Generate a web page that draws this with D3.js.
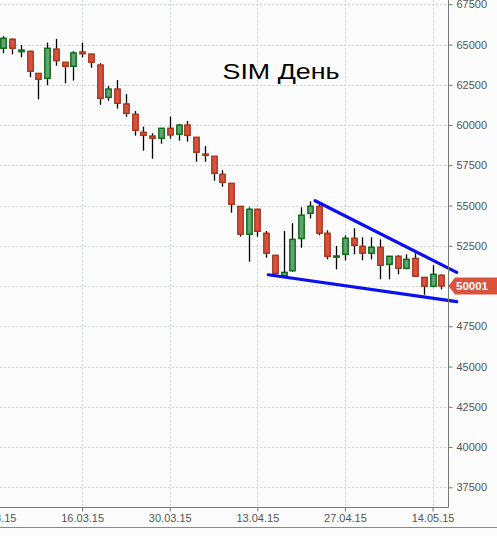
<!DOCTYPE html>
<html>
<head>
<meta charset="utf-8">
<script src="https://cdn.jsdelivr.net/npm/d3@7/dist/d3.min.js"></script>
<style>
  html, body { margin: 0; padding: 0; background: #fcfcfc; }
  svg { display: block; font-family: "Liberation Sans", Arial, sans-serif; }
</style>
</head>
<body>
<svg id="chart" width="497" height="536"></svg>
<script>
// SIM daily candles, 03.03.15 - 15.05.15
var dates = ['03.03.15', '04.03.15', '05.03.15', '06.03.15', '09.03.15', '10.03.15', '11.03.15', '12.03.15', '13.03.15',
  '16.03.15', '17.03.15', '18.03.15', '19.03.15', '20.03.15', '23.03.15', '24.03.15', '25.03.15', '26.03.15', '27.03.15',
  '30.03.15', '31.03.15', '01.04.15', '02.04.15', '03.04.15', '06.04.15', '07.04.15', '08.04.15', '09.04.15', '10.04.15',
  '13.04.15', '14.04.15', '15.04.15', '16.04.15', '17.04.15', '20.04.15', '21.04.15', '22.04.15', '23.04.15', '24.04.15',
  '27.04.15', '28.04.15', '29.04.15', '30.04.15', '05.05.15', '06.05.15', '07.05.15', '08.05.15', '12.05.15', '13.05.15',
  '14.05.15', '15.05.15'];
var opens = [64770, 65330, 64560, 64580, 63210, 62900, 64720, 63900, 63650, 64540,
  64410, 63730, 61720, 62240, 61310, 60670, 59550, 59320, 59180, 59800,
  59430, 60000, 59240, 58200, 58060, 56940, 56380, 54950, 53220, 54770,
  53280, 51910, 50640, 50950, 52950, 54520, 54950, 53280, 51790, 51970,
  52970, 52470, 52040, 52410, 51350, 51850, 51100, 51720, 50540, 49990, 50670];
var highs = [65530, 65380, 64970, 64620, 63230, 65120, 65350, 63920, 64600, 65120,
  64430, 63840, 62430, 62800, 61930, 60870, 59900, 59490, 59820, 60520,
  60070, 60250, 59260, 58700, 58080, 57190, 56400, 54970, 54890, 54800,
  53420, 51930, 53420, 53900, 54890, 55260, 55070, 53460, 52490, 53150,
  53590, 53030, 53030, 52900, 51870, 51910, 51970, 52040, 50560, 51290, 50730];
var lows = [64460, 64390, 64210, 62970, 61600, 62470, 63690, 62590, 62760, 64210,
  63560, 61260, 61510, 61020, 60520, 59340, 58410, 57910, 58840, 59150,
  59030, 58970, 57720, 57720, 56540, 56170, 54560, 53070, 51510, 53070,
  51760, 50660, 50620, 50890, 52380, 54200, 53150, 51660, 51040, 51600,
  51970, 51600, 51660, 50420, 50420, 50730, 51040, 50590, 49460, 49920, 49800];
var closes = [65390, 64770, 64660, 63340, 62840, 64770, 64000, 63650, 64480, 64430,
  63900, 61660, 62240, 61350, 60730, 59670, 59360, 59180, 59800, 59380,
  60000, 59360, 58310, 58120, 57000, 56440, 55080, 53220, 54770, 53400,
  52040, 50780, 50850, 52900, 54400, 54960, 53280, 51840, 51870, 52970,
  52530, 52040, 52410, 51290, 51850, 51100, 51660, 50610, 49990, 50730, 50001];

// hand drawn trend lines: [bar index, price]
var upperTrend = [[35.6, 55300], [51.76, 50850]];
var lowerTrend = [[30.25, 50700], [51.76, 49030]];

var priceTicks = [37500, 40000, 42500, 45000, 47500, 50000, 52500, 55000, 57500, 60000, 62500, 65000, 67500];
var dateTickIdx = [-1, 9, 19, 29, 39, 49];
var dateTickLabels = ['02.03.15', '16.03.15', '30.03.15', '13.04.15', '27.04.15', '14.05.15'];
var lastPrice = 50001;
var title = 'SIM День';

var plotRight = 448, plotBottom = 507, frameBottom = 527;
var svg = d3.select('#chart');

var x = d3.scaleLinear().domain([0, dates.length - 1]).range([3.3, 441.3]);
var y = d3.scaleLinear().domain([37500, 67500]).range([487.3, 4.3]);
var px = function (v) { return Math.round(v) + 0.5; };

var candles = dates.map(function (d, i) {
    return { date: d, i: i, o: opens[i], h: highs[i], l: lows[i], c: closes[i] };
});

// grid
var grid = svg.append('g').attr('stroke', '#cdd3cd').attr('stroke-dasharray', '2,2').attr('stroke-width', 1);
grid.selectAll('.hgrid').data(priceTicks)
    .enter().append('line')
    .attr('x1', 0).attr('x2', plotRight)
    .attr('y1', function (d) { return px(y(d)); })
    .attr('y2', function (d) { return px(y(d)); });
grid.selectAll('.vgrid').data(dateTickIdx)
    .enter().append('line')
    .attr('y1', 0).attr('y2', plotBottom)
    .attr('x1', function (d) { return px(x(d)); })
    .attr('x2', function (d) { return px(x(d)); });

// title
svg.append('text')
    .attr('x', 222.5)
    .attr('y', 78.5)
    .style('font-size', '22px')
    .attr('textLength', 117)
    .attr('lengthAdjust', 'spacingAndGlyphs')
    .attr('fill', '#000')
    .text(title);

// candles
var cg = svg.selectAll('.candle').data(candles)
    .enter().append('g')
    .attr('transform', function (d) { return 'translate(' + px(x(d.i)) + ',0)'; });
cg.append('line')
    .attr('x1', 0).attr('x2', 0)
    .attr('y1', function (d) { return y(d.h); })
    .attr('y2', function (d) { return y(d.l); })
    .attr('stroke', '#000')
    .attr('stroke-width', 1.3);
cg.append('rect')
    .attr('x', -2.7)
    .attr('width', 5.4)
    .attr('y', function (d) { return y(Math.max(d.o, d.c)); })
    .attr('height', function (d) { return Math.max(1.2, Math.abs(y(d.o) - y(d.c))); })
    .attr('fill', function (d) { return d.c >= d.o ? '#5ea574' : '#d9503c'; })
    .attr('stroke', function (d) { return d.c >= d.o ? '#0b6b12' : '#a7361a'; })
    .attr('stroke-width', 1.4);

// trend lines
var line = d3.line()
    .x(function (d) { return x(d[0]); })
    .y(function (d) { return y(d[1]); });
[upperTrend, lowerTrend].forEach(function (t) {
    svg.append('path')
        .attr('d', line(t))
        .attr('fill', 'none')
        .attr('stroke', '#0a10f0')
        .attr('stroke-width', 3.2)
        .attr('stroke-linecap', 'round');
});

// axes
var yAxis = d3.axisRight(y)
    .tickValues(priceTicks)
    .tickSize(4)
    .tickPadding(4)
    .tickFormat(function (d) { return '' + d; });
var gy = svg.append('g').attr('transform', 'translate(' + px(plotRight) + ',0)').call(yAxis);
gy.select('.domain').remove();
gy.selectAll('line').attr('stroke', '#777');
gy.selectAll('text').attr('fill', '#555').style('font-size', '11px').attr('font-family', '"Liberation Sans", Arial, sans-serif');

var xAxis = d3.axisBottom(x)
    .tickValues(dateTickIdx)
    .tickSize(4)
    .tickPadding(3)
    .tickFormat(function (d, i) { return dateTickLabels[i]; });
var gx = svg.append('g').attr('transform', 'translate(0,' + px(plotBottom) + ')').call(xAxis);
gx.select('.domain').remove();
gx.selectAll('line').attr('stroke', '#777');
gx.selectAll('text').attr('fill', '#555').style('font-size', '11px').attr('font-family', '"Liberation Sans", Arial, sans-serif');

svg.append('path')
    .attr('d', 'M0,' + px(plotBottom) + 'H' + px(plotRight) + 'V0')
    .attr('fill', 'none')
    .attr('stroke', '#777')
    .attr('stroke-width', 1);
svg.append('line')
    .attr('x1', 0).attr('x2', 497)
    .attr('y1', px(frameBottom)).attr('y2', px(frameBottom))
    .attr('stroke', '#888');

// last price tag
var ly = y(lastPrice);
svg.append('path')
    .attr('d', 'M' + (plotRight + 0.5) + ',' + ly + 'L455,' + (ly - 8.5) + 'H497V' + (ly + 8.5) + 'H455Z')
    .attr('fill', '#d9533f');
svg.append('text')
    .attr('x', 456)
    .attr('y', ly + 4)
    .attr('fill', '#fff')
    .style('font-size', '11.5px')
    .style('font-weight', 'bold')
    .text('' + lastPrice);
</script>
</body>
</html>
